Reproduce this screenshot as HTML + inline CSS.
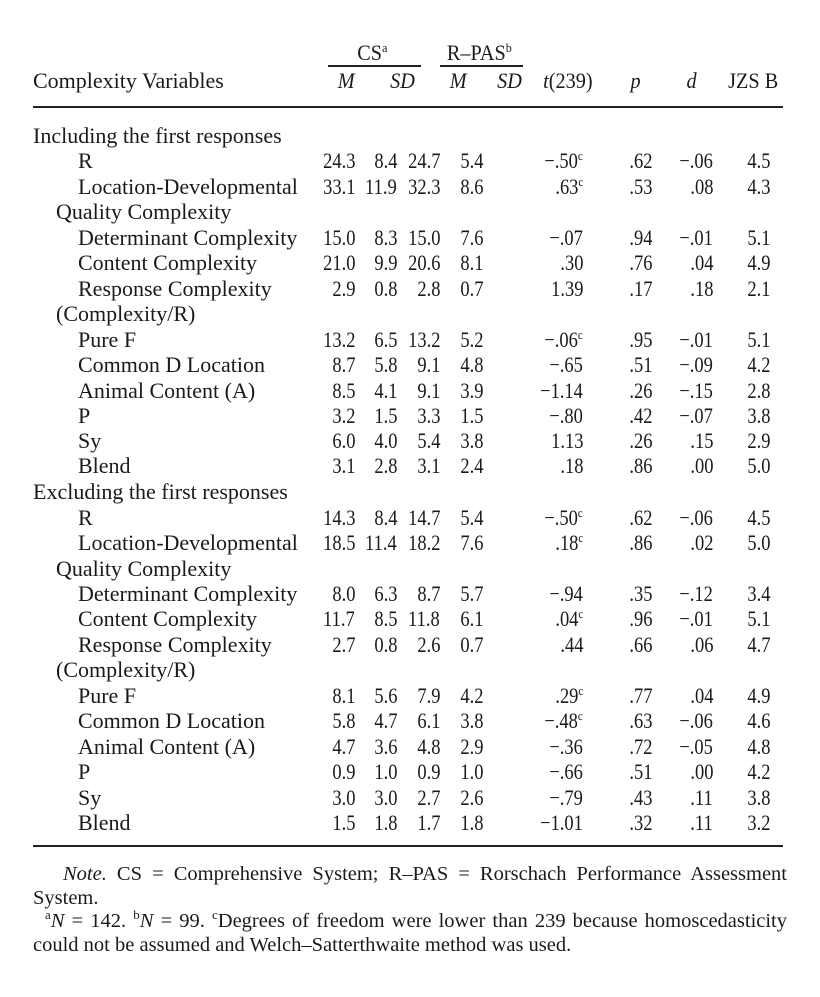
<!DOCTYPE html>
<html><head><meta charset="utf-8"><style>
body{margin:0;background:#fff;}
#w{position:relative;width:820px;height:997px;font-family:"Liberation Serif",serif;font-size:22px;color:#1a1a1a;overflow:hidden}
.r{position:absolute;left:0;width:820px;height:25px;line-height:25px}
.r span{position:absolute;white-space:nowrap}
.l0{left:33px}.l1{left:56px}.l2{left:78px}
.a,.b,.c,.d,.t,.p,.e,.j{transform:scaleX(0.84);transform-origin:right center}
.h{transform:scaleX(0.92);transform-origin:center center}
.a{right:465px}.b{right:423px}.c{right:380px}.d{right:337px}.t{right:237px}.p{right:168px}.e{right:107px}.j{right:50px}
sup{font-size:13px;line-height:0;vertical-align:8px}
.hr{position:absolute;background:#222}
i{font-style:italic}
.n{position:absolute;left:33px;width:754px;line-height:23.5px;text-align:justify;font-size:20.5px}
</style></head><body><div id="w">
<div class="r" style="top:40px"><span class="h" style="left:356px">CS<sup>a</sup></span><span class="h" style="left:444px">R–PAS<sup>b</sup></span></div>
<div class="hr" style="left:328px;top:65px;width:93px;height:2px"></div>
<div class="hr" style="left:440px;top:65px;width:83px;height:2px"></div>
<div class="r" style="top:68px"><span class="l0">Complexity Variables</span><span class="h" style="left:337px"><i>M</i></span><span class="h" style="left:389px"><i>SD</i></span><span class="h" style="left:449px"><i>M</i></span><span class="h" style="left:496px"><i>SD</i></span><span class="h" style="left:541px"><i>t</i>(239)</span><span class="h" style="left:630px"><i>p</i></span><span class="h" style="left:686px"><i>d</i></span><span class="h" style="left:726px">JZS B</span></div>
<div class="hr" style="left:33px;top:106px;width:750px;height:2px"></div>

<div class="r" style="top:123px"><span class="l0">Including the first responses</span></div>
<div class="r" style="top:148px"><span class="l2">R</span><span class="a">24.3</span><span class="b">8.4</span><span class="c">24.7</span><span class="d">5.4</span><span class="t">−.50<sup>c</sup></span><span class="p">.62</span><span class="e">−.06</span><span class="j">4.5</span></div>
<div class="r" style="top:174px"><span class="l2">Location-Developmental</span><span class="a">33.1</span><span class="b">11.9</span><span class="c">32.3</span><span class="d">8.6</span><span class="t">.63<sup>c</sup></span><span class="p">.53</span><span class="e">.08</span><span class="j">4.3</span></div>
<div class="r" style="top:199px"><span class="l1">Quality Complexity</span></div>
<div class="r" style="top:225px"><span class="l2">Determinant Complexity</span><span class="a">15.0</span><span class="b">8.3</span><span class="c">15.0</span><span class="d">7.6</span><span class="t">−.07</span><span class="p">.94</span><span class="e">−.01</span><span class="j">5.1</span></div>
<div class="r" style="top:250px"><span class="l2">Content Complexity</span><span class="a">21.0</span><span class="b">9.9</span><span class="c">20.6</span><span class="d">8.1</span><span class="t">.30</span><span class="p">.76</span><span class="e">.04</span><span class="j">4.9</span></div>
<div class="r" style="top:276px"><span class="l2">Response Complexity</span><span class="a">2.9</span><span class="b">0.8</span><span class="c">2.8</span><span class="d">0.7</span><span class="t">1.39</span><span class="p">.17</span><span class="e">.18</span><span class="j">2.1</span></div>
<div class="r" style="top:301px"><span class="l1">(Complexity/R)</span></div>
<div class="r" style="top:327px"><span class="l2">Pure F</span><span class="a">13.2</span><span class="b">6.5</span><span class="c">13.2</span><span class="d">5.2</span><span class="t">−.06<sup>c</sup></span><span class="p">.95</span><span class="e">−.01</span><span class="j">5.1</span></div>
<div class="r" style="top:352px"><span class="l2">Common D Location</span><span class="a">8.7</span><span class="b">5.8</span><span class="c">9.1</span><span class="d">4.8</span><span class="t">−.65</span><span class="p">.51</span><span class="e">−.09</span><span class="j">4.2</span></div>
<div class="r" style="top:378px"><span class="l2">Animal Content (A)</span><span class="a">8.5</span><span class="b">4.1</span><span class="c">9.1</span><span class="d">3.9</span><span class="t">−1.14</span><span class="p">.26</span><span class="e">−.15</span><span class="j">2.8</span></div>
<div class="r" style="top:403px"><span class="l2">P</span><span class="a">3.2</span><span class="b">1.5</span><span class="c">3.3</span><span class="d">1.5</span><span class="t">−.80</span><span class="p">.42</span><span class="e">−.07</span><span class="j">3.8</span></div>
<div class="r" style="top:428px"><span class="l2">Sy</span><span class="a">6.0</span><span class="b">4.0</span><span class="c">5.4</span><span class="d">3.8</span><span class="t">1.13</span><span class="p">.26</span><span class="e">.15</span><span class="j">2.9</span></div>
<div class="r" style="top:453px"><span class="l2">Blend</span><span class="a">3.1</span><span class="b">2.8</span><span class="c">3.1</span><span class="d">2.4</span><span class="t">.18</span><span class="p">.86</span><span class="e">.00</span><span class="j">5.0</span></div>
<div class="r" style="top:479px"><span class="l0">Excluding the first responses</span></div>
<div class="r" style="top:505px"><span class="l2">R</span><span class="a">14.3</span><span class="b">8.4</span><span class="c">14.7</span><span class="d">5.4</span><span class="t">−.50<sup>c</sup></span><span class="p">.62</span><span class="e">−.06</span><span class="j">4.5</span></div>
<div class="r" style="top:530px"><span class="l2">Location-Developmental</span><span class="a">18.5</span><span class="b">11.4</span><span class="c">18.2</span><span class="d">7.6</span><span class="t">.18<sup>c</sup></span><span class="p">.86</span><span class="e">.02</span><span class="j">5.0</span></div>
<div class="r" style="top:556px"><span class="l1">Quality Complexity</span></div>
<div class="r" style="top:581px"><span class="l2">Determinant Complexity</span><span class="a">8.0</span><span class="b">6.3</span><span class="c">8.7</span><span class="d">5.7</span><span class="t">−.94</span><span class="p">.35</span><span class="e">−.12</span><span class="j">3.4</span></div>
<div class="r" style="top:606px"><span class="l2">Content Complexity</span><span class="a">11.7</span><span class="b">8.5</span><span class="c">11.8</span><span class="d">6.1</span><span class="t">.04<sup>c</sup></span><span class="p">.96</span><span class="e">−.01</span><span class="j">5.1</span></div>
<div class="r" style="top:632px"><span class="l2">Response Complexity</span><span class="a">2.7</span><span class="b">0.8</span><span class="c">2.6</span><span class="d">0.7</span><span class="t">.44</span><span class="p">.66</span><span class="e">.06</span><span class="j">4.7</span></div>
<div class="r" style="top:657px"><span class="l1">(Complexity/R)</span></div>
<div class="r" style="top:683px"><span class="l2">Pure F</span><span class="a">8.1</span><span class="b">5.6</span><span class="c">7.9</span><span class="d">4.2</span><span class="t">.29<sup>c</sup></span><span class="p">.77</span><span class="e">.04</span><span class="j">4.9</span></div>
<div class="r" style="top:708px"><span class="l2">Common D Location</span><span class="a">5.8</span><span class="b">4.7</span><span class="c">6.1</span><span class="d">3.8</span><span class="t">−.48<sup>c</sup></span><span class="p">.63</span><span class="e">−.06</span><span class="j">4.6</span></div>
<div class="r" style="top:734px"><span class="l2">Animal Content (A)</span><span class="a">4.7</span><span class="b">3.6</span><span class="c">4.8</span><span class="d">2.9</span><span class="t">−.36</span><span class="p">.72</span><span class="e">−.05</span><span class="j">4.8</span></div>
<div class="r" style="top:759px"><span class="l2">P</span><span class="a">0.9</span><span class="b">1.0</span><span class="c">0.9</span><span class="d">1.0</span><span class="t">−.66</span><span class="p">.51</span><span class="e">.00</span><span class="j">4.2</span></div>
<div class="r" style="top:785px"><span class="l2">Sy</span><span class="a">3.0</span><span class="b">3.0</span><span class="c">2.7</span><span class="d">2.6</span><span class="t">−.79</span><span class="p">.43</span><span class="e">.11</span><span class="j">3.8</span></div>
<div class="r" style="top:810px"><span class="l2">Blend</span><span class="a">1.5</span><span class="b">1.8</span><span class="c">1.7</span><span class="d">1.8</span><span class="t">−1.01</span><span class="p">.32</span><span class="e">.11</span><span class="j">3.2</span></div>
<div class="hr" style="left:33px;top:845px;width:750px;height:2px"></div>

<div class="n" style="top:863px;text-indent:30px"><i>Note.</i> CS = Comprehensive System; R–PAS = Rorschach Performance Assessment System.</div>
<div class="n" style="top:910px;text-indent:12px"><sup>a</sup><i>N</i> = 142. <sup>b</sup><i>N</i> = 99. <sup>c</sup>Degrees of freedom were lower than 239 because homoscedasticity could not be assumed and Welch–Satterthwaite method was used.</div>
</div></body></html>
